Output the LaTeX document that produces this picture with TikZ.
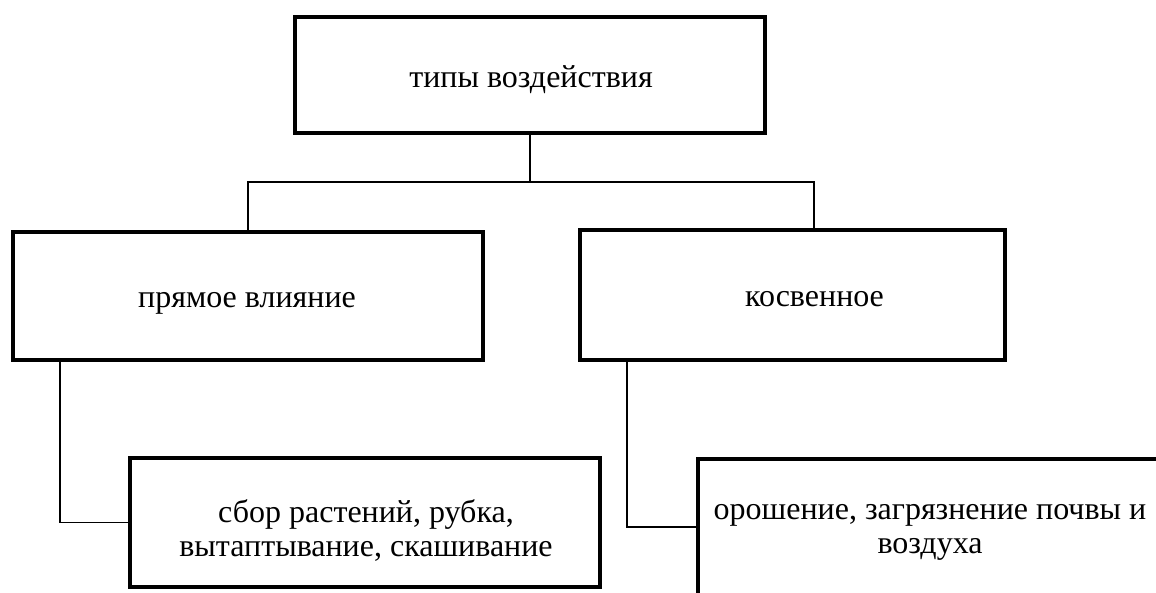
\documentclass[tikz,border=0pt]{standalone}
\usepackage{fontspec}
\setmainfont{Liberation Serif}
\begin{document}
\begin{tikzpicture}[x=1pt,y=-1pt,
  box/.style={draw=black,line width=4pt,fill=white,inner sep=0pt},
  lbl/.style={inner sep=0pt,anchor=base,font=\fontsize{32}{34}\selectfont},
  link/.style={draw=black,line width=1.3pt}]
\useasboundingbox (0,0) rectangle (1156,592);
\clip (0,0) rectangle (1156,592);
% boxes
\node[box,minimum width=470pt,minimum height=116pt] (top) at (530,75) {};
\node[box,minimum width=470pt,minimum height=128pt] (left) at (248,296) {};
\node[box,minimum width=425pt,minimum height=130pt] (right) at (792.5,295) {};
\node[box,minimum width=470pt,minimum height=129pt] (bl) at (365,522.5) {};
\node[box,minimum width=468pt,minimum height=136pt] (br) at (932,527) {};
% texts
\node[lbl] (toptext) at (531,87) {типы воздействия};
\node[lbl] (lefttext) at (247,307) {прямое влияние};
\node[lbl] (righttext) at (814.5,306) {косвенное};
\node[lbl] (bltext) at (366,522) {\begin{tabular}[t]{@{}c@{}}сбор растений, рубка,\\вытаптывание, скашивание\end{tabular}};
\node[lbl] (brtext) at (930,519) {\begin{tabular}[t]{@{}c@{}}орошение, загрязнение почвы и\\воздуха\end{tabular}};
% connectors
\coordinate (rj) at (814,182);
\draw[link] (top.south) -- (top.south |- rj);
\draw[link] (left.north) |- (rj) -- (rj |- right.north);
\coordinate (lc) at (60,360);
\coordinate (rc) at (627,360);
\draw[link] (lc) |- (bl.west);
\draw[link] (rc) |- (br.west);
\end{tikzpicture}
\end{document}
